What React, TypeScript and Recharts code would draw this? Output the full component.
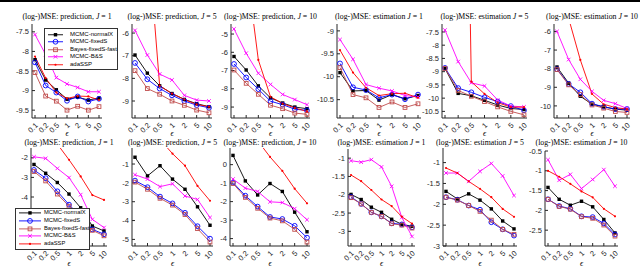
import React from 'react';
import { LineChart, Line, XAxis, YAxis } from 'recharts';

const epsValues = ['0.1', '0.2', '0.5', '1', '2', '5', '10'];

// upper row
const aPredJ1NormalX = [-8.21, -8.73, -8.98, -9.22, -9.17, -9.24, -9.19];
const aPredJ1FixedS = [-8.28, -8.87, -9.05, -9.26, -9.15, -9.28, -9.21];
const aPredJ1Fast = [-8.54, -9.14, -9.27, -9.5, -9.4, -9.5, -9.41];
const aPredJ1BS = [-7.57, -8.08, -8.67, -8.83, -8.92, -9.03, -9.03];
const aPredJ1Ada = [-8.13, -8.68, -9.05, -9.2, -9.14, -9.15, -9.24];

const aPredJ5NormalX = [-6.97, -7.77, -8.33, -8.67, -8.93, -9.12, -9.25];
const aPredJ5FixedS = [-7.32, -8.04, -8.45, -8.75, -9.0, -9.18, -9.3];
const aPredJ5Fast = [-7.66, -8.45, -8.7, -9.0, -9.19, -9.4, -9.52];
const aPredJ5BS = [-5.88, -6.97, -7.81, -8.07, -8.75, -8.96, -9.0];
const aPredJ5Ada = [2, -1.5, -8.33, -8.67, -8.93, -9.15, -9.25];

const aPredJ10NormalX = [-6.23, -6.97, -7.84, -8.5, -8.78, -9.0, -9.09];
const aPredJ10FixedS = [-6.64, -7.38, -8.02, -8.68, -8.87, -9.12, -9.18];
const aPredJ10Fast = [-6.97, -7.7, -8.3, -8.9, -9.09, -9.33, -9.4];
const aPredJ10BS = [-4.72, -6.05, -7.15, -7.76, -8.31, -8.59, -8.87];
const aPredJ10Ada = [3, -1.2, -6.42, -8.44, -8.81, -9.05, -9.24];

const aEstJ1NormalX = [-9.91, -10.31, -10.3, -10.51, -10.39, -10.48, -10.41];
const aEstJ1FixedS = [-9.71, -10.23, -10.29, -10.46, -10.39, -10.49, -10.39];
const aEstJ1Fast = [-9.8, -10.39, -10.46, -10.67, -10.55, -10.67, -10.59];
const aEstJ1BS = [-9.19, -9.62, -10.17, -10.25, -10.31, -10.41, -10.44];
const aEstJ1Ada = [-9.42, -9.91, -10.24, -10.41, -10.37, -10.36, -10.46];

const aEstJ5NormalX = [-8.88, -9.82, -9.91, -10.08, -10.26, -10.39, -10.43];
const aEstJ5FixedS = [-8.86, -9.62, -9.78, -9.97, -10.13, -10.3, -10.46];
const aEstJ5Fast = [-8.88, -9.71, -9.93, -10.13, -10.33, -10.5, -10.63];
const aEstJ5BS = [-7.43, -8.62, -9.42, -9.54, -10.07, -10.3, -10.33];
const aEstJ5Ada = [30, 20, -9.38, -9.84, -10.17, -10.34, -10.34];

const aEstJ10NormalX = [-7.91, -8.78, -9.48, -9.91, -10.05, -10.17, -10.23];
const aEstJ10FixedS = [-8.03, -8.82, -9.27, -9.88, -10.05, -10.17, -10.17];
const aEstJ10Fast = [-8.05, -8.87, -9.39, -9.95, -10.12, -10.3, -10.35];
const aEstJ10BS = [-6.0, -7.51, -8.57, -9.22, -9.7, -9.88, -10.14];
const aEstJ10Ada = [2, -5.3, -7.53, -9.36, -9.91, -10.09, -10.17];

// lower row
const bPredJ1NormalX = [-2.34, -2.79, -3.26, -3.85, -4.55, -5.48, -5.73];
const bPredJ1FixedS = [-2.62, -3.04, -3.71, -4.39, -5.0, -5.65, -5.9];
const bPredJ1Fast = [-2.7, -3.18, -3.85, -4.47, -5.1, -5.7, -5.98];
const bPredJ1BS = [-1.95, -2.03, -2.54, -3.01, -3.88, -5.14, -5.56];
const bPredJ1Ada = [0, -0.6, -1.3, -2.1, -2.95, -3.9, -4.15];

const bPredJ5NormalX = [-0.64, -1.63, -1.09, -1.8, -2.34, -3.27, -4.25];
const bPredJ5FixedS = [-1.88, -2.23, -2.73, -3.09, -3.59, -4.3, -4.96];
const bPredJ5Fast = [-1.96, -2.34, -2.82, -3.18, -3.68, -4.43, -5.14];
const bPredJ5BS = [-1.57, -1.8, -2.2, -2.05, -2.7, -2.88, -3.84];
const bPredJ5Ada = [1.6, 1.0, 0.3, -0.45, -1.09, -2.16, -2.95];

const bPredJ10NormalX = [0.5, -0.88, -1.64, -1.02, -1.45, -2.57, -3.63];
const bPredJ10FixedS = [-0.97, -1.68, -2.27, -2.83, -2.94, -3.31, -3.95];
const bPredJ10Fast = [-1.02, -1.77, -2.36, -2.89, -3.04, -3.5, -4.19];
const bPredJ10BS = [-0.78, -1.27, -1.45, -2.01, -2.05, -2.38, -2.98];
const bPredJ10Ada = [2.6, 2.0, 1.3, 0.42, -0.34, -1.3, -2.09];

const bEstJ1NormalX = [-1.99, -2.13, -2.34, -2.48, -2.67, -2.81, -2.86];
const bEstJ1FixedS = [-2.06, -2.25, -2.48, -2.59, -2.78, -2.81, -2.89];
const bEstJ1Fast = [-2.08, -2.25, -2.48, -2.59, -2.79, -2.83, -2.91];
const bEstJ1BS = [-1.07, -1.11, -1.04, -1.24, -1.77, -2.62, -3.14];
const bEstJ1Ada = [-1.46, -1.63, -1.87, -2.13, -2.31, -2.6, -2.79];

const bEstJ5NormalX = [-1.69, -1.87, -1.75, -1.9, -2.11, -2.4, -2.59];
const bEstJ5FixedS = [-1.83, -1.89, -2.03, -2.13, -2.43, -2.6, -2.75];
const bEstJ5Fast = [-1.83, -1.9, -2.03, -2.17, -2.38, -2.6, -2.72];
const bEstJ5BS = [-1.25, -1.25, -1.45, -1.21, -1.02, -1.32, -1.79];
const bEstJ5Ada = [-1.13, -1.25, -1.45, -1.63, -1.83, -2.11, -2.3];

const bEstJ10NormalX = [-1.42, -1.72, -1.87, -1.77, -1.91, -2.23, -2.57];
const bEstJ10FixedS = [-1.72, -1.89, -1.96, -2.15, -2.17, -2.33, -2.61];
const bEstJ10Fast = [-1.72, -1.9, -1.97, -2.16, -2.2, -2.37, -2.65];
const bEstJ10BS = [-0.72, -1.24, -1.09, -1.45, -1.22, -0.97, -1.39];
const bEstJ10Ada = [-1.0, -1.15, -1.33, -1.52, -1.67, -1.96, -2.15];

const seriesStyle = [
  { key: 'normalX', name: 'MCMC-normalX', color: '#000000', marker: 'filledSquare' },
  { key: 'fixedS', name: 'MCMC-fixedS', color: '#0000ff', marker: 'circle' },
  { key: 'fast', name: 'Bayes-fixedS-fast', color: '#c04c4c', marker: 'square' },
  { key: 'bs', name: 'MCMC-B&S', color: '#ff00ff', marker: 'cross' },
  { key: 'ada', name: 'adaSSP', color: '#ff0000', marker: 'dot' },
];

const panels = [
  { task: 'prediction', J: 1, left: 32, right: 102, top: 24, bottom: 118, domain: [-9.7, -7.3], ticks: [-9.5, -9, -8.5, -8, -7.5],
    data: [aPredJ1NormalX, aPredJ1FixedS, aPredJ1Fast, aPredJ1BS, aPredJ1Ada] },
  { task: 'prediction', J: 5, left: 132, right: 212, top: 24, bottom: 118, domain: [-9.75, -5.6], ticks: [-9, -8, -7, -6],
    data: [aPredJ5NormalX, aPredJ5FixedS, aPredJ5Fast, aPredJ5BS, aPredJ5Ada] },
  { task: 'prediction', J: 10, left: 231, right: 310, top: 24, bottom: 118, domain: [-9.6, -4.45], ticks: [-9, -8, -7, -6, -5],
    data: [aPredJ10NormalX, aPredJ10FixedS, aPredJ10Fast, aPredJ10BS, aPredJ10Ada] },
  { task: 'estimation', J: 1, left: 337, right: 421, top: 24, bottom: 118, domain: [-10.9, -8.85], ticks: [-10.5, -10, -9.5, -9],
    data: [aEstJ1NormalX, aEstJ1FixedS, aEstJ1Fast, aEstJ1BS, aEstJ1Ada] },
  { task: 'estimation', J: 5, left: 442, right: 527, top: 24, bottom: 118, domain: [-10.75, -7.2], ticks: [-10.5, -10, -9.5, -9, -8.5, -8, -7.5],
    data: [aEstJ5NormalX, aEstJ5FixedS, aEstJ5Fast, aEstJ5BS, aEstJ5Ada] },
  { task: 'estimation', J: 10, left: 554, right: 630, top: 24, bottom: 118, domain: [-10.65, -5.6], ticks: [-10, -9, -8, -7, -6],
    data: [aEstJ10NormalX, aEstJ10FixedS, aEstJ10Fast, aEstJ10BS, aEstJ10Ada] },
  { task: 'prediction', J: 1, left: 31, right: 107, top: 148, bottom: 246, domain: [-6.5, -1.5], ticks: [-6, -5, -4, -3, -2],
    data: [bPredJ1NormalX, bPredJ1FixedS, bPredJ1Fast, bPredJ1BS, bPredJ1Ada] },
  { task: 'prediction', J: 5, left: 132, right: 213, top: 148, bottom: 246, domain: [-5.35, -0.15], ticks: [-5, -4, -3, -2, -1],
    data: [bPredJ5NormalX, bPredJ5FixedS, bPredJ5Fast, bPredJ5BS, bPredJ5Ada] },
  { task: 'prediction', J: 10, left: 230, right: 310, top: 148, bottom: 246, domain: [-4.4, 0.9], ticks: [-4, -3, -2, -1, 0],
    data: [bPredJ10NormalX, bPredJ10FixedS, bPredJ10Fast, bPredJ10BS, bPredJ10Ada] },
  { task: 'estimation', J: 1, left: 348, right: 415, top: 149, bottom: 246, domain: [-3.4, -0.75], ticks: [-3, -2.5, -2, -1.5, -1],
    data: [bEstJ1NormalX, bEstJ1FixedS, bEstJ1Fast, bEstJ1BS, bEstJ1Ada] },
  { task: 'estimation', J: 5, left: 443, right: 517, top: 148, bottom: 246, domain: [-3, -0.65], ticks: [-3, -2.5, -2, -1.5, -1],
    data: [bEstJ5NormalX, bEstJ5FixedS, bEstJ5Fast, bEstJ5BS, bEstJ5Ada] },
  { task: 'estimation', J: 10, left: 545, right: 618, top: 151, bottom: 246, domain: [-2.9, -0.5], ticks: [-2.5, -2, -1.5, -1, -0.5],
    data: [bEstJ10NormalX, bEstJ10FixedS, bEstJ10Fast, bEstJ10BS, bEstJ10Ada] },
];

const axisColor = '#262626';
const sans = '"Liberation Sans", Arial, sans-serif';
const serif = '"Liberation Serif", "Times New Roman", serif';

const drawMarker = (kind: string, color: string, cx: number, cy: number, key: string) => {
  if (cx == null || cy == null) return <g key={key} />;
  switch (kind) {
    case 'filledSquare':
      return <rect key={key} x={cx - 1.7} y={cy - 1.7} width={3.4} height={3.4} fill={color} />;
    case 'circle':
      return <circle key={key} cx={cx} cy={cy} r={2.4} fill="none" stroke={color} strokeWidth={0.9} />;
    case 'square':
      return <rect key={key} x={cx - 1.9} y={cy - 1.9} width={3.8} height={3.8} fill="none" stroke={color} strokeWidth={0.9} />;
    case 'cross':
      return (
        <path key={key} d={`M${cx - 1.8},${cy - 1.8}L${cx + 1.8},${cy + 1.8}M${cx - 1.8},${cy + 1.8}L${cx + 1.8},${cy - 1.8}`}
          stroke={color} strokeWidth={0.9} />
      );
    default:
      return <circle key={key} cx={cx} cy={cy} r={1.1} fill={color} />;
  }
};

const EpsTick = (props: any) => {
  const { x, y, payload } = props;
  return (
    <text transform={`translate(${x + 1.5},${y + 6}) rotate(-45)`} textAnchor="end" dy="0.35em"
      fontSize={7.5} fontFamily={sans} fill={axisColor}>
      {payload.value}
    </text>
  );
};

const NoTick = () => <g />;

const Panel = ({ p, idx }: { p: any; idx: number }) => {
  const mL = 40, mR = 4, mT = 4, mB = 30;
  const w = p.right - p.left + mL + mR;
  const h = p.bottom - p.top + mT + mB;
  const rows = epsValues.map((eps, i) => {
    const r: any = { eps };
    seriesStyle.forEach((s, k) => { r[s.key] = p.data[k][i]; });
    return r;
  });
  const cx = (p.left + p.right) / 2;
  const titleY = idx < 6 ? 17 : 143;
  const epsY = idx < 6 ? 134 : 264;
  return (
    <>
      <div style={{ position: 'absolute', left: p.left - mL, top: p.top - mT }}>
        <LineChart width={w} height={h} data={rows} margin={{ top: mT, right: mR, bottom: 0, left: 0 }}>
          <XAxis dataKey="eps" height={mB} interval={0} padding={{ left: 3, right: 3 }} tickSize={-3} tickMargin={3}
            tick={<EpsTick />} stroke={axisColor} />
          <XAxis xAxisId="t" dataKey="eps" orientation="top" height={0} interval={0} padding={{ left: 3, right: 3 }}
            tickSize={-3} tick={NoTick} stroke={axisColor} />
          <YAxis width={mL} type="number" domain={p.domain} ticks={p.ticks} allowDataOverflow interval={0}
            tickSize={-3} tickMargin={6} stroke={axisColor}
            tick={{ fontSize: 7.5, fill: axisColor, fontFamily: sans }} />
          <YAxis yAxisId="r" orientation="right" width={0} type="number" domain={p.domain} ticks={p.ticks}
            allowDataOverflow interval={0} tickSize={-3} tick={NoTick} stroke={axisColor} />
          {seriesStyle.map((s) => (
            <Line key={s.key} dataKey={s.key} stroke={s.color} strokeWidth={0.9} isAnimationActive={false}
              activeDot={false}
              dot={(d: any) => drawMarker(s.marker, s.color, d.cx, d.cy, `${s.key}-${d.index}`)} />
          ))}
        </LineChart>
      </div>
      <div style={{ position: 'absolute', left: cx - 60, width: 120, top: titleY - 6, textAlign: 'center',
        fontFamily: serif, fontSize: 7.8, lineHeight: '12px', whiteSpace: 'nowrap', color: '#000' }}>
        (log-)MSE: {p.task}{p.task === 'prediction' ? ',' : ''} <i>J</i> = {p.J}
      </div>
      <div style={{ position: 'absolute', left: cx - 10, width: 20, top: epsY - 5, textAlign: 'center',
        fontFamily: serif, fontSize: 8, lineHeight: '10px', color: '#000' }}>
        <i>ϵ</i>
      </div>
    </>
  );
};

const LegendBox = ({ left, top, width, rowH, padTop, lineStart, lineLen, textGap, fontSize }: any) => (
  <div style={{ position: 'absolute', left, top, width, paddingTop: padTop, paddingBottom: 1, background: '#fff',
    border: '0.7px solid #333', boxSizing: 'border-box' }}>
    {seriesStyle.map((s) => (
      <div key={s.key} style={{ display: 'flex', alignItems: 'center', height: rowH }}>
        <svg width={lineStart + lineLen} height={rowH} style={{ display: 'block', flex: 'none' }}>
          <line x1={lineStart} x2={lineStart + lineLen} y1={rowH / 2} y2={rowH / 2} stroke={s.color} strokeWidth={0.9} />
          {drawMarker(s.marker, s.color, lineStart + lineLen / 2, rowH / 2, s.key)}
        </svg>
        <span style={{ marginLeft: textGap, fontFamily: sans, fontSize, whiteSpace: 'nowrap', lineHeight: `${rowH}px` }}>
          {s.name}
        </span>
      </div>
    ))}
  </div>
);

export default function App() {
  return (
    <div style={{ position: 'absolute', left: 0, top: 0, width: 640, height: 269, overflow: 'hidden', background: '#fff' }}>
      <div style={{ position: 'absolute', left: 0, top: 0, width: 640, height: 2, background: '#000' }} />
      {panels.map((p, i) => <Panel key={i} p={p} idx={i} />)}
      <LegendBox left={44} top={28} width={74} rowH={7.5} padTop={1.5} lineStart={3} lineLen={15} textGap={7} fontSize={6} />
      <LegendBox left={15} top={208} width={75} rowH={7.8} padTop={0} lineStart={3} lineLen={22} textGap={3} fontSize={5.8} />
    </div>
  );
}
